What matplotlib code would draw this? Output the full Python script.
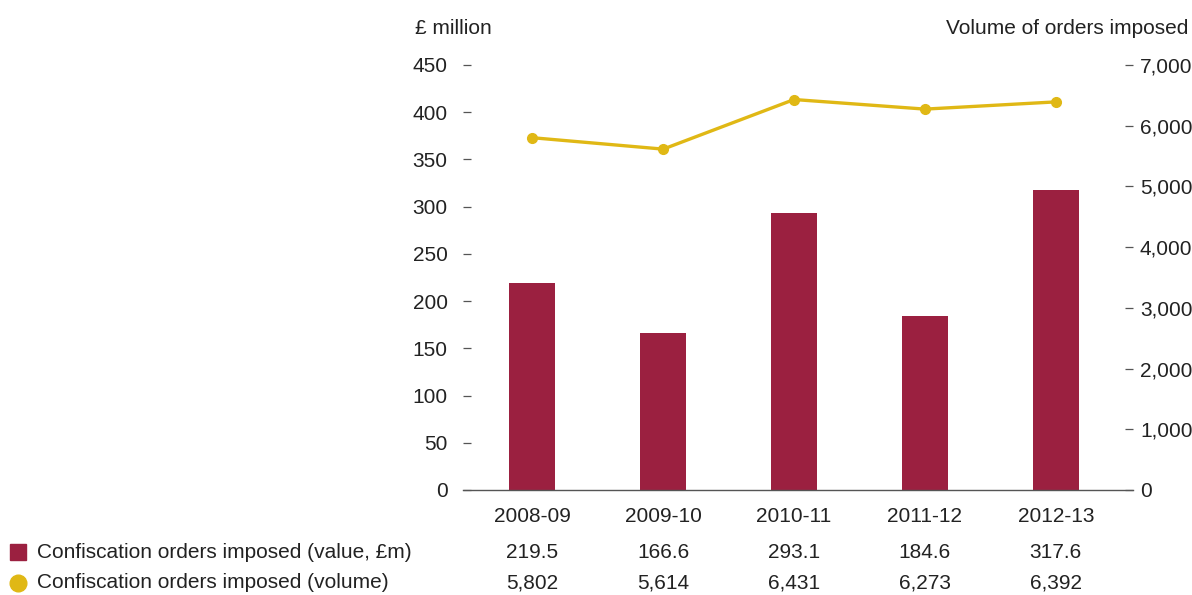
import matplotlib.pyplot as plt

plt.rcParams['font.family'] = ['Liberation Sans', 'DejaVu Sans']

years = ['2008-09', '2009-10', '2010-11', '2011-12', '2012-13']
value_m = [219.5, 166.6, 293.1, 184.6, 317.6]
volume = [5802, 5614, 6431, 6273, 6392]

bar_col = '#9B2040'
line_col = '#E0B815'
txt_col = '#222222'
fs = 15

fig = plt.figure(figsize=(11.92, 5.95), dpi=100)
ax = fig.add_axes([0.3884, 0.1765, 0.5621, 0.7143])
x = list(range(len(years)))

ax.bar(x, value_m, width=0.35, color=bar_col, zorder=2)
ax.set_ylim(0, 450)
ax.set_yticks(range(0, 451, 50))
ax.set_xlim(-0.53, 4.59)
ax.set_xticks(x)
ax.set_xticklabels(years)

ax2 = ax.twinx()
ax2.plot(x, volume, color=line_col, lw=2.4, marker='o', ms=7, zorder=3)
ax2.set_ylim(0, 7000)
ax2.set_yticks(range(0, 7001, 1000))
ax2.set_yticklabels(['0'] + [f'{v:,}' for v in range(1000, 7001, 1000)])

for a in (ax, ax2):
    for s in ('top', 'left', 'right'):
        a.spines[s].set_visible(False)
    a.tick_params(labelsize=fs, colors=txt_col)
ax.spines['bottom'].set_color('#555555')
ax.spines['bottom'].set_linewidth(1)
ax2.spines['bottom'].set_visible(False)
ax.tick_params(axis='x', length=0, pad=12)
ax.tick_params(axis='y', direction='in', length=6, width=0.9,
               color='#555555', pad=11)
ax2.tick_params(axis='y', direction='in', length=6, width=0.9,
                color='#555555', pad=5)

fig.text(415 / 1192, 1 - 28 / 595, '£ million', fontsize=fs,
         color=txt_col, va='center')
fig.text(1188 / 1192, 1 - 28 / 595, 'Volume of orders imposed', fontsize=fs,
         color=txt_col, va='center', ha='right')

# data table under the chart
rows = [
    ('Confiscation orders imposed (value, £m)', 's', bar_col,
     [f'{v:.1f}' for v in value_m]),
    ('Confiscation orders imposed (volume)', 'o', line_col,
     [f'{v:,}' for v in volume]),
]
row_y = [1 - 552 / 595, 1 - 583 / 595]
for (label, mk, col, vals), yy in zip(rows, row_y):
    fig.lines.append(plt.Line2D([18 / 1192], [yy], marker=mk, ms=11 if mk == 's' else 12,
                                color=col, transform=fig.transFigure, ls='none'))
    fig.text(37 / 1192, yy, label, fontsize=fs, color=txt_col, va='center')
    for xi, v in zip(x, vals):
        xf = fig.transFigure.inverted().transform(ax.transData.transform((xi, 0)))[0]
        fig.text(xf, yy, v, fontsize=fs, color=txt_col, va='center', ha='center')

fig.savefig('out.png', dpi=100)
